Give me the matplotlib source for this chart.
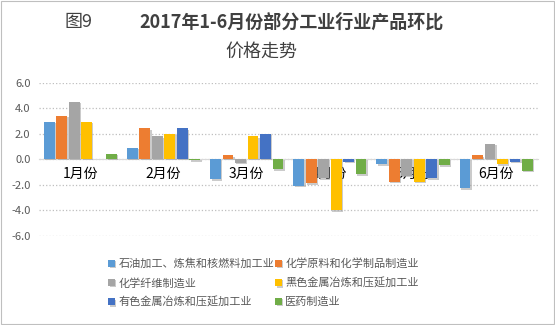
import matplotlib
matplotlib.use('Agg')
import matplotlib.pyplot as plt
import matplotlib.patheffects as pe
import numpy as np

plt.rcParams['font.family'] = ['Noto Sans CJK SC', 'DejaVu Sans']

months = ['1月份', '2月份', '3月份', '4月份', '5月份', '6月份']
names = ['石油加工、炼焦和核燃料加工业', '化学原料和化学制品制造业', '化学纤维制造业',
         '黑色金属冶炼和压延加工业', '有色金属冶炼和压延加工业', '医药制造业']
petro = [2.9, 0.9, -1.6, -2.1, -0.4, -2.3]
chem = [3.4, 2.4, 0.3, -1.9, -1.8, 0.3]
fiber = [4.5, 1.8, -0.3, -1.5, -1.3, 1.2]
steel = [2.9, 2.0, 1.8, -4.0, -1.8, -0.4]
nonfer = [0.0, 2.4, 2.0, -0.2, -1.5, -0.2]
pharma = [0.4, -0.1, -0.8, -1.2, -0.5, -0.9]
series = [petro, chem, fiber, steel, nonfer, pharma]
colors = ['#5B9BD5', '#ED7D31', '#A5A5A5', '#FFC000', '#4472C4', '#70AD47']

fig = plt.figure(figsize=(5.55, 3.25), dpi=100)
ax = fig.add_axes([0.070, 0.275, 0.899, 0.471])

x = np.arange(len(months))
slot = 0.15
shadow = [pe.SimplePatchShadow(offset=(1, -1), shadow_rgbFace='#999999', alpha=0.5), pe.Normal()]
for i, (vals, c, n) in enumerate(zip(series, colors, names)):
    bars = ax.bar(x + (i - 2.5) * slot, vals, width=0.13, color=c, label=n, zorder=3)
    for b in bars:
        b.set_path_effects(shadow)

ax.set_xlim(-0.5, 5.5)
ax.set_ylim(-6, 6)
ax.set_yticks(np.arange(-6, 7, 2))
ax.set_yticklabels(['%.1f' % v for v in np.arange(-6, 7, 2)], fontsize=8, color='#595959')
ax.set_xticks(x)
ax.set_xticklabels(months, fontsize=9, color='#595959')
ax.tick_params(axis='x', length=0, pad=6)
ax.tick_params(axis='y', length=0, pad=6)
ax.grid(axis='y', linestyle=':', color='#BFBFBF', linewidth=0.9, zorder=0)
for s in ['left', 'right', 'top']:
    ax.spines[s].set_visible(False)
ax.spines['bottom'].set_position(('data', 0))
ax.spines['bottom'].set_color('#D9D9D9')
ax.spines['bottom'].set_zorder(2)

fig.text(79 / 555, 1 - 22 / 325, '图9', fontsize=13, color='#404040', ha='center', va='center')
fig.text(292 / 555, 1 - 22 / 325, '2017年1-6月份部分工业行业产品环比', fontsize=13,
         fontweight='bold', color='#404040', ha='center', va='center')
fig.text(261 / 555, 1 - 52 / 325, '价格走势', fontsize=13, color='#404040', ha='center', va='center')

# legend reads row by row in the original
handles, labels = ax.get_legend_handles_labels()
order = [0, 2, 4, 1, 3, 5]
fig.legend([handles[k] for k in order], [labels[k] for k in order], ncol=2, loc='center',
           bbox_to_anchor=(0.475, 1 - 283 / 325), frameon=False, fontsize=8, labelcolor='#595959',
           handlelength=0.6, handleheight=0.6, handletextpad=0.3, columnspacing=0.1,
           labelspacing=0.75)

fig.patches.append(plt.Rectangle((0.001, 0.004), 0.997, 0.994, transform=fig.transFigure,
                                 fill=False, edgecolor='#BFBFBF', linewidth=0.8))

fig.savefig('out.png', dpi=100)
